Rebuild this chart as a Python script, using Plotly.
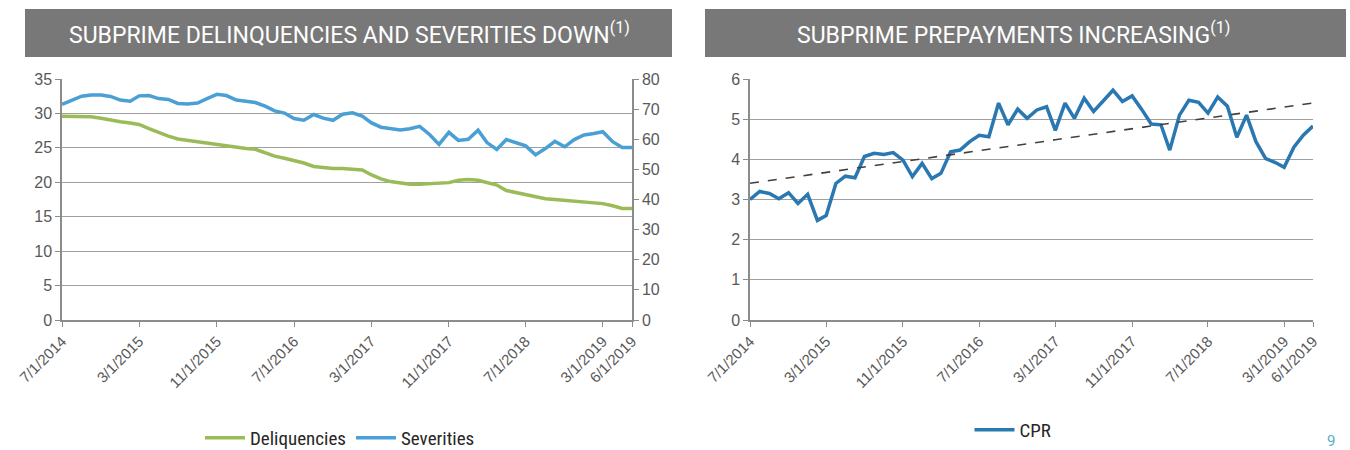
import numpy as np
import plotly.graph_objects as go

W, H = 1350, 450

# ---- data ----
months = [f"{2014 + (6 + i) // 12}-{(6 + i) % 12 + 1:02d}-01" for i in range(60)]

delinquencies = [29.6, 29.6, 29.6, 29.5, 29.3, 29.0, 28.8, 28.6, 28.4, 27.8,
                 27.2, 26.7, 26.3, 26.1, 25.9, 25.6, 25.4, 25.3, 25.1, 24.9,
                 24.8, 24.3, 23.8, 23.5, 23.2, 22.8, 22.3, 22.1, 22.0, 22.0,
                 21.9, 21.8, 21.1, 20.5, 20.1, 19.9, 19.7, 19.7, 19.8, 19.95,
                 19.95, 20.3, 20.4, 20.3, 20.0, 19.6, 18.8, 18.5, 18.2, 17.9,
                 17.6, 17.5, 17.4, 17.3, 17.2, 17.0, 16.9, 16.6, 16.2, 16.2]

severities = [71.6, 73.0, 74.3, 74.7, 74.7, 74.2, 73.0, 72.6, 74.4, 74.5,
              73.5, 73.2, 71.9, 71.7, 72.0, 73.5, 74.9, 74.5, 73.0, 72.6,
              72.2, 71.0, 69.4, 68.7, 66.9, 66.3, 68.2, 67.0, 66.3, 68.3,
              68.8, 67.7, 65.5, 64.0, 63.6, 63.1, 63.5, 64.3, 61.6, 58.3,
              62.3, 59.6, 60.0, 63.0, 58.9, 56.6, 59.9, 58.7, 57.8, 54.8,
              56.9, 59.3, 57.5, 59.9, 61.4, 61.9, 62.5, 59.2, 57.3, 57.3]

cpr = [3.0, 3.2, 3.15, 3.02, 3.17, 2.9, 3.13, 2.48, 2.6, 3.4,
       3.58, 3.54, 4.07, 4.15, 4.12, 4.17, 3.98, 3.57, 3.9, 3.52,
       3.65, 4.19, 4.23, 4.44, 4.6, 4.56, 5.4, 4.86, 5.25, 5.02,
       5.23, 5.31, 4.72, 5.4, 5.02, 5.52, 5.19, 5.44, 5.72, 5.44,
       5.58, 5.25, 4.88, 4.86, 4.23, 5.1, 5.47, 5.42, 5.15, 5.55,
       5.32, 4.55, 5.1, 4.44, 4.02, 3.92, 3.8, 4.3, 4.6, 4.83]

tick_dates = ["2014-07-01", "2015-03-01", "2015-11-01", "2016-07-01", "2017-03-01",
              "2017-11-01", "2018-07-01", "2019-03-01", "2019-06-01"]
tick_labels = ["7/1/2014", "3/1/2015", "11/1/2015", "7/1/2016", "3/1/2017",
               "11/1/2017", "7/1/2018", "3/1/2019", "6/1/2019"]

title_left = "SUBPRIME DELINQUENCIES AND SEVERITIES DOWN<sup>(1)</sup>"
title_right = "SUBPRIME PREPAYMENTS INCREASING<sup>(1)</sup>"

# linear trendline (as in the source chart)
idx = np.arange(len(cpr))
slope, intercept = np.polyfit(idx, cpr, 1)
trend = slope * idx + intercept

# ---- styles ----
GREEN = "#9BBB59"
SEV = "#4A9FD5"
CPR_C = "#2A78B2"
AX = "#8C8C8C"
GRID = "#A0A0A0"


def px(x):
    return x / W


def py(y):
    return (H - y) / H


fig = go.Figure()

fig.add_trace(go.Scatter(x=months, y=delinquencies, name="Deliquencies", mode="lines",
                         line=dict(color=GREEN, width=3.5), xaxis="x", yaxis="y",
                         legend="legend"))
fig.add_trace(go.Scatter(x=months, y=severities, name="Severities", mode="lines",
                         line=dict(color=SEV, width=3.5), xaxis="x", yaxis="y2",
                         legend="legend"))
fig.add_trace(go.Scatter(x=months, y=cpr, name="CPR", mode="lines",
                         line=dict(color=CPR_C, width=3.5), xaxis="x2", yaxis="y3",
                         legend="legend2"))
fig.add_trace(go.Scatter(x=months, y=trend, name="Linear (CPR)", mode="lines",
                         line=dict(color="#404040", width=1.6, dash="dash"),
                         xaxis="x2", yaxis="y3", showlegend=False))

ydom = [py(320), py(79)]
tickfont_y = dict(family="Liberation Sans, Arial, sans-serif", size=16, color="#595959")
tickfont_x = dict(family="Liberation Sans, Arial, sans-serif", size=15, color="#595959")
legfont = dict(family="Liberation Sans Narrow, Roboto Condensed, Arial Narrow, sans-serif",
               size=19, color="#262626")

xcommon = dict(type="date", range=[months[0], months[-1]], tickmode="array",
               tickvals=tick_dates, ticktext=tick_labels, tickangle=-45,
               showgrid=False, showline=True, linecolor=AX, linewidth=1.5,
               ticks="outside", ticklen=5, tickcolor=AX, tickfont=tickfont_x,
               zeroline=False, automargin=False)
ycommon = dict(showline=True, linecolor=AX, linewidth=1.5, ticks="outside", ticklen=5,
               tickcolor=AX, tickfont=tickfont_y, zeroline=False, automargin=False)

fig.update_layout(
    width=W, height=H,
    margin=dict(l=0, r=0, t=0, b=0, autoexpand=False),
    paper_bgcolor="white", plot_bgcolor="white",
    xaxis=dict(domain=[px(62), px(632)], anchor="y", **xcommon),
    xaxis2=dict(domain=[px(750), px(1313)], anchor="y3", **xcommon),
    yaxis=dict(domain=ydom, anchor="x", range=[0, 35], dtick=5, tick0=0,
               showgrid=True, gridcolor=GRID, gridwidth=1.3, **ycommon),
    yaxis2=dict(domain=ydom, anchor="x", overlaying="y", side="right",
                range=[0, 80], dtick=10, tick0=0, showgrid=False, **ycommon),
    yaxis3=dict(domain=ydom, anchor="x2", range=[0, 6], dtick=1, tick0=0,
                showgrid=True, gridcolor=GRID, gridwidth=1.3, **ycommon),
    legend=dict(orientation="h", x=px(340), xanchor="center", y=py(438), yanchor="middle",
                font=legfont, bgcolor="rgba(0,0,0,0)", itemwidth=40),
    legend2=dict(orientation="h", x=px(1013), xanchor="center", y=py(430), yanchor="middle",
                 font=legfont, bgcolor="rgba(0,0,0,0)", itemwidth=40),
    shapes=[
        dict(type="rect", xref="paper", yref="paper", x0=px(25), x1=px(672),
             y0=py(57), y1=py(9), fillcolor="#787878", line=dict(width=0), layer="below"),
        dict(type="rect", xref="paper", yref="paper", x0=px(705), x1=px(1346),
             y0=py(57), y1=py(9), fillcolor="#787878", line=dict(width=0), layer="below"),
    ],
    annotations=[
        dict(text=title_left, xref="paper", yref="paper", x=px(349), y=py(33),
             xanchor="center", yanchor="middle", showarrow=False,
             font=dict(family="Roboto, sans-serif", size=23, color="white")),
        dict(text=title_right, xref="paper", yref="paper", x=px(1013), y=py(33),
             xanchor="center", yanchor="middle", showarrow=False,
             font=dict(family="Roboto, sans-serif", size=23, color="white")),
        dict(text="9", xref="paper", yref="paper", x=px(1331), y=py(441),
             xanchor="center", yanchor="middle", showarrow=False,
             font=dict(family="Roboto, sans-serif", size=15, color="#5AAFC8")),
    ],
)

fig.write_html("out.html")
